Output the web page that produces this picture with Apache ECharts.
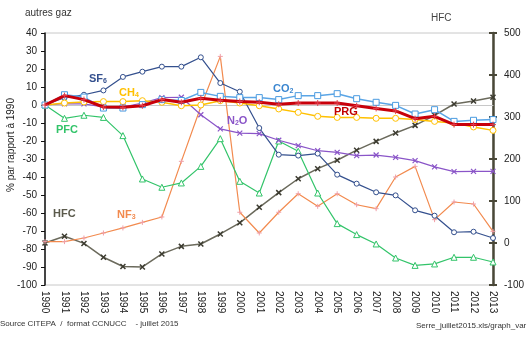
<!DOCTYPE html>
<html>
<head>
<meta charset="utf-8">
<script src="https://cdn.jsdelivr.net/npm/echarts@6/dist/echarts.min.js"></script>
<style>
  html, body { margin: 0; padding: 0; background: #fff; }
  #chart { width: 530px; height: 340px; }
</style>
</head>
<body>
<div id="chart"></div>
<script>
// Evolution des émissions de gaz à effet de serre, % par rapport à 1990
const years = ['1990','1991','1992','1993','1994','1995','1996','1997','1998','1999','2000','2001',
               '2002','2003','2004','2005','2006','2007','2008','2009','2010','2011','2012','2013'];

// left axis: autres gaz
const sf6 = [0, 4, 5.7, 8.1, 15.6, 18.5, 21.3, 21.3, 26.5, 12.2, 7.4, -12.8,
             -27.6, -28.1, -27, -38.7, -43.7, -48.5, -50.2, -58.5, -61.5, -70.7, -70.4, -73.9];
const co2 = [0, 5.7, 4.4, -1.7, -1.7, 0.2, 3, 2.5, 7, 4.8, 4.1, 4.1,
             3, 5.2, 5.2, 6.3, 3.5, 1.5, -0.2, -5, -2.6, -9.1, -8.5, -8.1];
const ch4 = [0, 1.1, 1.7, 1.9, 1.9, 2.4, 1.5, -0.4, 0, 2.4, 1.1, -0.4,
             -2.2, -4.1, -6.3, -6.9, -6.9, -7.4, -7.4, -8.1, -9.1, -10, -12.2, -14.1];
const prg = [0, 5.2, 3, -1.1, -1.3, -0.4, 3, 1.5, 3.7, 2.6, 1.9, 1.5,
             0.4, 1.1, 1.1, 1.1, -0.4, -1.9, -3.3, -7.6, -6.3, -10.9, -10.9, -10.9];
const n2o = [0, 0.7, 0.6, -1.1, -1.1, 1.1, 4.1, 4.3, -5.4, -13.3, -15.6, -15.9,
             -19.6, -22.6, -25.4, -26.3, -28.1, -27.8, -29.1, -30.9, -34.4, -37, -36.9, -36.9];
const pfc = [0, -7.4, -5.7, -6.9, -17, -41.1, -45.7, -43.3, -34.1, -18.7, -42.4, -48.9,
             -20, -25.7, -48.9, -65.9, -72, -77.2, -85, -89.1, -88.3, -84.6, -84.6, -87.2];
const nf3 = [-75.9, -75.9, -73.9, -71.1, -68.3, -65.2, -62.2, -31.3, -1, 27, -59.6, -71.1,
             -59.6, -49.3, -56.3, -49.3, -55.4, -57.6, -40, -34.1, -63.7, -53.9, -55, -70.2];
// right axis: HFC
const hfc = [0, 16, -1, -34, -56, -57, -26, -8, -2.4, 21.5, 48, 85,
             120, 153, 177, 197, 221, 242, 262, 280, 304, 331, 338, 347];

const leftTicks = { min: -100, max: 40, interval: 10 };
const rightTicks = { min: -100, max: 500, interval: 100 };

const FONT = 'Liberation Sans';
const PLUS = 'path://M5,0 L5,10 M0,5 L10,5';
const CROSS = 'path://M0,0 L10,10 M10,0 L0,10';

// line with hollow markers: white fill, coloured outline
function line(name, data, color, opts) {
  return Object.assign({
    name, type: 'line', data, yAxisIndex: 0,
    symbolSize: 5, showSymbol: true, showAllSymbol: true,
    lineStyle: { color, width: 1.2, type: 'solid' },
    itemStyle: { color: '#fff', borderColor: color, borderWidth: 1 },
    emphasis: { disabled: true },
    z: 2
  }, opts || {});
}

const chart = echarts.init(document.getElementById('chart'), null, { renderer: 'canvas' });

// series name label, with optional subscript and trailing text
function lbl(x, y, main, sub, tail, color) {
  let text = '{a|' + main + '}';
  if (sub) text += '{s|' + sub + '}';
  if (tail) text += '{a|' + tail + '}';
  return {
    type: 'text', left: x, top: y, z: 10,
    style: {
      text, fill: color,
      rich: {
        a: { fontFamily: FONT, fontSize: 11, fontWeight: 'bold', fill: color, lineHeight: 14 },
        s: { fontFamily: FONT, fontSize: 7, fontWeight: 'bold', fill: color, padding: [6, 0, 0, 0], lineHeight: 14 }
      }
    }
  };
}

chart.setOption({
  animation: false,
  backgroundColor: '#fff',
  grid: { left: 45, right: 37, top: 33, bottom: 55, show: true, borderColor: '#c8c8c8', borderWidth: 1 },
  xAxis: {
    type: 'category', data: years, boundaryGap: false,
    axisLine: { lineStyle: { color: '#c8c8c8', width: 1 } },
    axisTick: { show: false },
    axisLabel: { interval: 0, rotate: -90, fontFamily: FONT, fontSize: 10, color: '#222', margin: 6 },
    splitLine: { show: false }
  },
  yAxis: [
    {
      type: 'value', position: 'left', min: leftTicks.min, max: leftTicks.max, interval: leftTicks.interval,
      axisLine: { show: true, lineStyle: { color: '#111', width: 1.5 } },
      axisTick: { show: true, length: 4, lineStyle: { color: '#111' } },
      axisLabel: { fontFamily: FONT, fontSize: 10, color: '#222', margin: 8 },
      splitLine: { show: false }
    },
    {
      type: 'value', position: 'right', min: rightTicks.min, max: rightTicks.max, interval: rightTicks.interval,
      axisLine: { show: true, lineStyle: { color: '#4a4838', width: 2.5 } },
      axisTick: { show: true, length: 4, lineStyle: { color: '#4a4838', width: 2 } },
      axisLabel: { fontFamily: FONT, fontSize: 10, color: '#222', margin: 11 },
      splitLine: { show: false }
    },
    {
      type: 'value', position: 'right', min: rightTicks.min, max: rightTicks.max, interval: rightTicks.interval,
      axisLine: { show: false },
      axisTick: { show: true, inside: true, length: 4, lineStyle: { color: '#4a4838', width: 2 } },
      axisLabel: { show: false },
      splitLine: { show: false }
    }
  ],
  series: [
    line('HFC', hfc, '#5b5a4c', {
      yAxisIndex: 1, symbol: CROSS, symbolSize: 5,
      lineStyle: { color: '#6b6a5c', width: 1.5 },
      itemStyle: { color: '#3c3b30', borderColor: '#3c3b30', borderWidth: 1.5 }
    }),
    line('NF3', nf3, '#f28a4e', {
      symbol: PLUS, symbolSize: 5,
      itemStyle: { color: '#f0a0a8', borderColor: '#f0a0a8', borderWidth: 1 }
    }),
    line('PFC', pfc, '#33c46a', { symbol: 'triangle', symbolSize: 6 }),
    line('N2O', n2o, '#8a55c8', {
      symbol: CROSS, symbolSize: 5,
      itemStyle: { color: '#8a55c8', borderColor: '#8a55c8', borderWidth: 1.2 }
    }),
    line('SF6', sf6, '#34508e', { symbol: 'circle', symbolSize: 5 }),
    line('CH4', ch4, '#ffc000', { symbol: 'circle', symbolSize: 6, lineStyle: { color: '#ffc000', width: 1.5 } }),
    line('CO2', co2, '#4a9be0', { symbol: 'rect', symbolSize: 6, lineStyle: { color: '#5aa5e6', width: 1.5 } }),
    line('PRG', prg, '#c00000', {
      symbol: PLUS, symbolSize: 6, z: 3,
      lineStyle: { color: '#c8000a', width: 3 },
      itemStyle: { color: '#e04050', borderColor: '#e04050', borderWidth: 1 }
    })
  ],
  graphic: [
    { type: 'text', left: 25, top: 8, style: { text: 'autres gaz', fontFamily: FONT, fontSize: 10, fill: '#333' } },
    { type: 'text', left: 431, top: 13, style: { text: 'HFC', fontFamily: FONT, fontSize: 10, fill: '#444' } },
    {
      type: 'text', x: 11, y: 145, rotation: Math.PI / 2,
      style: { text: '% par rapport à 1990', fontFamily: FONT, fontSize: 10, fill: '#222', align: 'center', verticalAlign: 'middle' }
    },
    lbl(89, 72, 'SF', '6', null, '#34508e'),
    lbl(119, 86, 'CH', '4', null, '#ffc000'),
    lbl(56, 124, 'PFC', null, null, '#33c46a'),
    lbl(53, 208, 'HFC', null, null, '#5b5a4c'),
    lbl(117, 208, 'NF', '3', null, '#f28a4e'),
    lbl(227, 114, 'N', '2', 'O', '#8a55c8'),
    lbl(273, 82, 'CO', '2', null, '#3a86d0'),
    lbl(334, 106, 'PRG', null, null, '#c00000'),
    { type: 'text', left: 0, top: 320, style: { text: 'Source CITEPA  /  format CCNUCC    - juillet 2015', fontFamily: FONT, fontSize: 8, fill: '#333' } },
    { type: 'text', left: 416, top: 322, style: { text: 'Serre_juillet2015.xls/graph_var', fontFamily: FONT, fontSize: 8, fill: '#333' } }
  ]
});
</script>
</body>
</html>
